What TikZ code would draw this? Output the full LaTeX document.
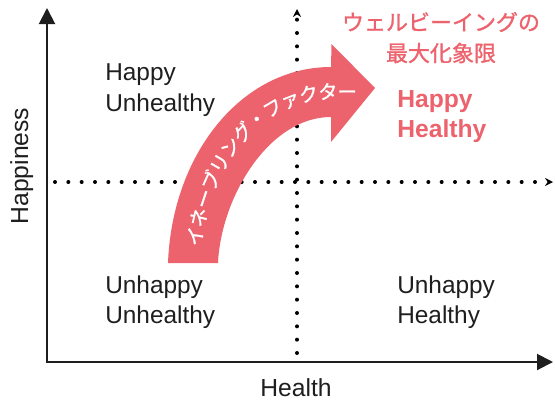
\documentclass[tikz,border=0pt]{standalone}
\usepackage{fontspec}
\setmainfont{Liberation Sans}
\newfontfamily\jpfont[FakeBold=1.2]{Noto Sans CJK JP}
\usetikzlibrary{arrows.meta,decorations.text}
\definecolor{wbpink}{RGB}{236,99,110}
\definecolor{ink}{RGB}{30,30,30}
\begin{document}
\begin{tikzpicture}[x=0.75pt,y=0.75pt,
  axis/.style={line width=1.5pt, draw=ink, {Triangle[length=12pt,width=12pt]}-{Triangle[length=12pt,width=12pt]}},
  dotline/.style={line width=3pt, line cap=round, dash pattern=on 0pt off 10pt, draw=black, -{Stealth[length=6pt,width=6pt]}},
  quad/.style={font=\fontsize{18.3pt}{22pt}\selectfont, text=ink, anchor=base west, inner sep=0pt},
  hh/.style={font=\bfseries\fontsize{18.5pt}{22pt}\selectfont, text=wbpink, anchor=base west, inner sep=0pt},
  jp/.style={font=\jpfont\fontsize{16.5pt}{20pt}\selectfont, text=wbpink, inner sep=0pt},
  axlabel/.style={font=\fontsize{18.5pt}{22pt}\selectfont, text=ink, anchor=base, inner sep=0pt},
]
\useasboundingbox (0,-401) rectangle (555,0);
% coordinates
\coordinate (O) at (47,-362);
\coordinate (ytop) at (47,-8);
\coordinate (xend) at (553,-362);
\coordinate (hl) at (55,-182);
\coordinate (hr) at (553,-182);
\coordinate (vb) at (297,-353);
\coordinate (vt) at (297,-9);
% dotted quadrant lines
\draw[dotline] (hl) -- (hr);
\draw[dotline] (vb) -- (vt);
% axes
\draw[axis] (ytop) -- (O) -- (xend);
% curved arrow
\fill[wbpink] (168,-263) .. controls (172,-154.7) and (241,-67) .. (331,-67)
  -- (331.5,-44) -- (375,-88) -- (331,-142) -- (331,-117)
  .. controls (268.6,-117) and (221,-197.6) .. (218,-263) -- cycle;
\path[decorate, decoration={text along path,
   text={|\jpfont\fontsize{14.5pt}{14.5pt}\selectfont|イネーブリング・ファクター},
   text color=white, text align=center, raise=-5.2pt}]
  (193,-263) .. controls (196,-168.6) and (254.8,-92) .. (331,-92) -- (374,-92);
% quadrant labels
\node[quad] (hu1) at (105,-80) {Happy};
\node[quad] (hu2) at (105,-111) {Unhealthy};
\node[quad] (uu1) at (105,-293) {Unhappy};
\node[quad] (uu2) at (105,-323) {Unhealthy};
\node[quad] (uh1) at (397,-293) {Unhappy};
\node[quad] (uh2) at (397,-323) {Healthy};
\node[hh] (hh1) at (397,-107) {Happy};
\node[hh] (hh2) at (397,-137) {Healthy};
\node[jp] (wb1) at (441,-22) {ウェルビーイングの};
\node[jp] (wb2) at (441,-53) {最大化象限};
% axis labels
\node[axlabel] (hx) at (296,-396) {Health};
\node[axlabel, rotate=90] (hy) at (28,-166) {Happiness};
\end{tikzpicture}
\end{document}
